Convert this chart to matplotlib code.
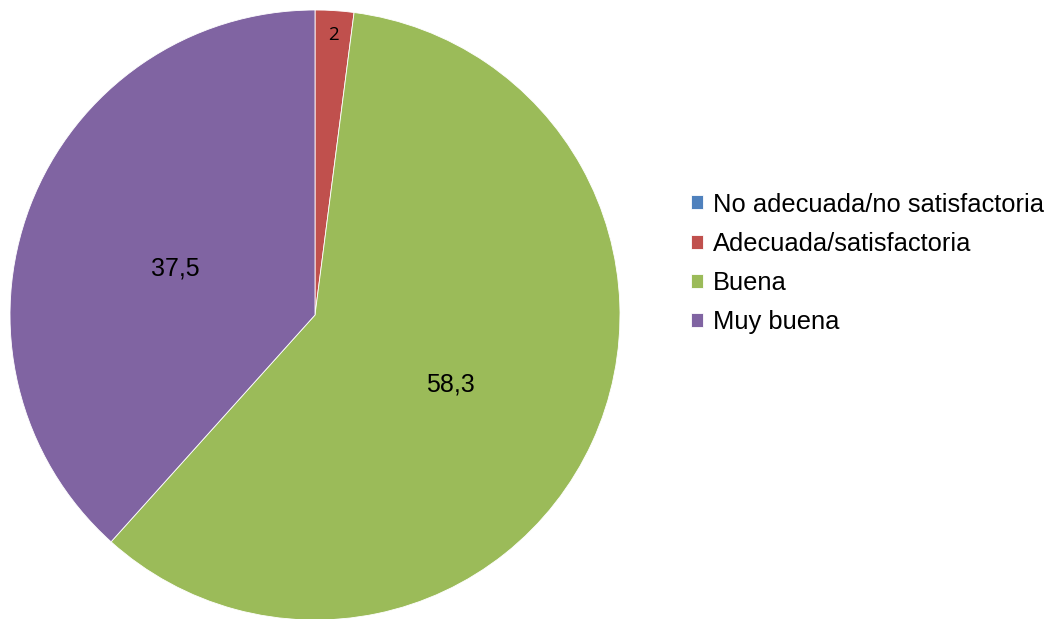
import matplotlib
matplotlib.use("Agg")
import matplotlib.pyplot as plt
import numpy as np

categories = ["No adecuada/no satisfactoria", "Adecuada/satisfactoria", "Buena", "Muy buena"]
values = [0, 2, 58.3, 37.5]
value_labels = ["", "2", "58,3", "37,5"]
colors = ["#4F81BD", "#C0504D", "#9BBB59", "#8064A2"]

W, H = 1052, 619
fig = plt.figure(figsize=(W / 100, H / 100), dpi=100)
cx, cy, r = 315, 315, 305
ax = fig.add_axes([(cx - r) / W, (H - cy - r) / H, 2 * r / W, 2 * r / H])
ax.axis("off")

wedges, _ = ax.pie(values, colors=colors, startangle=90, counterclock=False,
                   radius=1, wedgeprops=dict(edgecolor="white", linewidth=0.6),
                   frame=False)
ax.set_xlim(-1, 1)
ax.set_ylim(-1, 1)
ax.set_aspect("auto")

for w, lab in zip(wedges, value_labels):
    if not lab:
        continue
    ang = np.deg2rad((w.theta1 + w.theta2) / 2)
    if lab == "2":
        d = 0.92
        ax.text(d * np.cos(ang), d * np.sin(ang), lab, ha="center", va="center",
                fontsize=13.5, family="Open Sans", color="black")
    else:
        d = 0.49
        ax.text(d * np.cos(ang), d * np.sin(ang) - 0.024, lab, ha="center", va="center",
                fontsize=18, family="Liberation Sans", color="black")

leg = fig.legend(wedges, categories, loc="upper left",
                 bbox_to_anchor=(668 / W, 1 - 169.5 / H),
                 frameon=False, handlelength=0.47, handleheight=0.47,
                 handletextpad=0.4, labelspacing=0.6,
                 prop=dict(family="Liberation Sans", size=18.4))

fig.savefig("out.png", dpi=100)
